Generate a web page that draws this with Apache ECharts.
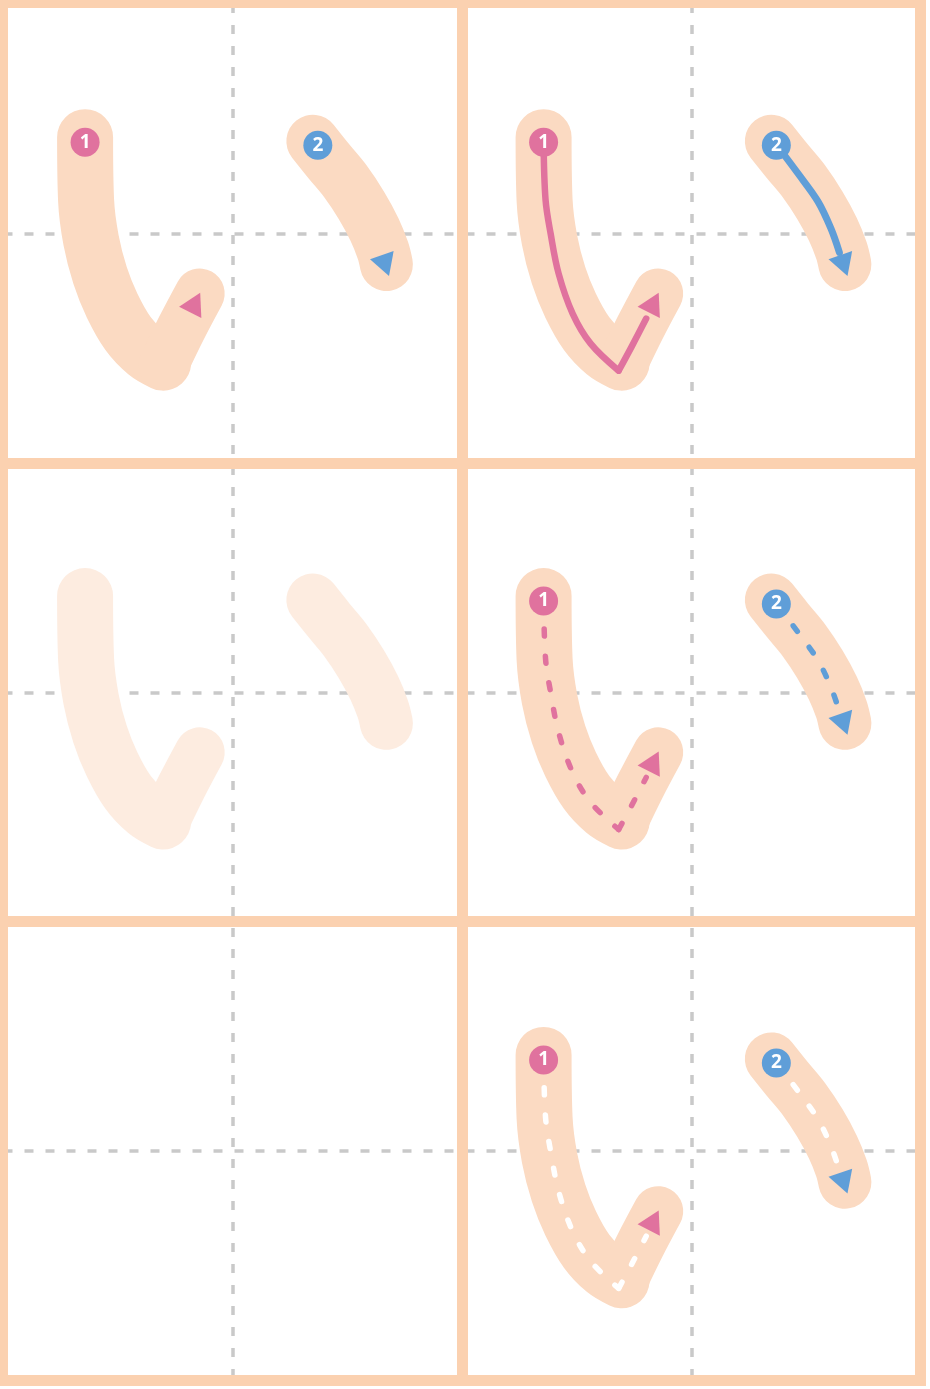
<!DOCTYPE html>
<html>
<head>
<meta charset="utf-8">
<script src="https://cdn.jsdelivr.net/npm/echarts@6/dist/echarts.min.js"></script>
<style>
html,body{margin:0;padding:0;background:#fff;}
#chart{width:930px;height:1389px;}
</style>
</head>
<body>
<div id="chart"></div>
<script>
// ---- frame (in cell units: 2 columns x 3 rows) ----
const FRAME_X = [0, 1, 2];
const FRAME_Y = [0, 1, 2, 3];
const GUIDE_X = [0.5, 1.5];
const GUIDE_Y = [0.5, 1.5, 2.5];

// ---- stroke shapes, in cell units (0..458) ----
const STROKE1_DOWN = [[81.5,133],[82.5,196],[87.5,236],[96.5,271],[108.5,301],[124.5,329],[142.5,348],[159.5,358]];
const STROKE1_UP   = [[160,360],[178,323],[196,289]];
const STROKE2      = [[309,137],[325,157],[341.5,177],[357.5,201],[370.5,225],[379,246],[382.5,260]];

const GUIDE1_DOWN = [[81.5,139],[83.5,196],[88.5,229],[96.5,269],[110.5,309],[128.5,339],[156.5,366]];
const GUIDE1_UP   = [[156.5,366],[170,341],[184,314]];
const GUIDE2      = [[314.5,141],[335.5,169],[355.5,197],[368.5,224],[377,248]];

const ARROW1 = [[191.5,298]];
const ARROW2 = [[381.5,261]];
const MARK1 = [[81.5,138]];
const MARK2 = [[314,141]];
const MARK_LABELS = ['1', '2'];

// cell contents: [row][col]
const CELL_KINDS = [
  ['model', 'solid'],
  ['faded', 'dashed'],
  ['empty', 'white']
];

const C_BORDER = '#FBD1B0';
const C_PEACH = '#FBDAC2';
const C_FADED = '#FDECE0';
const C_PINK = '#E0729E';
const C_BLUE = '#5F9ED8';
const C_GUIDE = '#C9C9C9';

const FRAME_LEFT = 3.5, FRAME_TOP = 4, FRAME_W = 917, FRAME_H = 1376.5;
const CELL_MAX = 458;

const grids = [{left: FRAME_LEFT, top: FRAME_TOP, width: FRAME_W, height: FRAME_H, show: false}];
const xAxes = [{gridIndex: 0, type: 'value', min: 0, max: 2, show: false}];
const yAxes = [{gridIndex: 0, type: 'value', min: 0, max: 3, inverse: true, show: false}];
const series = [];

// frame rules & guide lines
const borderData = [];
FRAME_X.forEach(v => borderData.push({coords: [[v, 0], [v, 3]], lineStyle: {width: v === 0 ? 8 : 11}}));
FRAME_Y.forEach(v => borderData.push({coords: [[0, v], [2, v]], lineStyle: {width: v === 0 ? 8 : 11}}));
const guideData = [];
GUIDE_X.forEach(v => guideData.push({coords: [[v, 0], [v, 3]]}));
GUIDE_Y.forEach(v => guideData.push({coords: [[0, v], [2, v]]}));

series.push({
  type: 'lines', coordinateSystem: 'cartesian2d', xAxisIndex: 0, yAxisIndex: 0,
  data: guideData, silent: true, clip: false, z: 1,
  lineStyle: {color: C_GUIDE, width: 3.5, type: [9, 12], opacity: 1, curveness: 0}
});
series.push({
  type: 'lines', coordinateSystem: 'cartesian2d', xAxisIndex: 0, yAxisIndex: 0,
  data: borderData, silent: true, clip: false, z: 2,
  lineStyle: {color: C_BORDER, width: 11, opacity: 1, curveness: 0, cap: 'square'}
});

function lineSeries(idx, data, color, width, z, dash) {
  return {
    type: 'line', xAxisIndex: idx, yAxisIndex: idx, data: data,
    smooth: 0.35, showSymbol: false, symbol: 'none', silent: true, clip: false, z: z,
    lineStyle: {color: color, width: width, cap: 'round', join: 'round', type: dash || 'solid', opacity: 1}
  };
}
function arrowSeries(idx, data, color, rot) {
  return {
    type: 'scatter', xAxisIndex: idx, yAxisIndex: idx, data: data, silent: true, clip: false, z: 6,
    symbol: 'triangle', symbolSize: [25, 22], symbolRotate: rot,
    itemStyle: {color: color, opacity: 1}
  };
}
function markSeries(idx, data, color, text) {
  return {
    type: 'scatter', xAxisIndex: idx, yAxisIndex: idx, data: data, silent: true, clip: false, z: 7,
    symbol: 'circle', symbolSize: 29, itemStyle: {color: color, opacity: 1},
    label: {show: true, position: 'inside', formatter: text, color: '#fff',
            fontWeight: 'bold', fontSize: 19, fontFamily: 'Open Sans'}
  };
}

let gi = 1;
for (let r = 0; r < CELL_KINDS.length; r++) {
  for (let c = 0; c < CELL_KINDS[r].length; c++) {
    const kind = CELL_KINDS[r][c];
    grids.push({
      left: FRAME_LEFT + c * FRAME_W / 2,
      top: FRAME_TOP + r * FRAME_H / 3,
      width: FRAME_W / 2, height: FRAME_H / 3, show: false
    });
    xAxes.push({gridIndex: gi, type: 'value', min: 0, max: CELL_MAX, show: false});
    yAxes.push({gridIndex: gi, type: 'value', min: 0, max: CELL_MAX, inverse: true, show: false});
    if (kind !== 'empty') {
      const peach = kind === 'faded' ? C_FADED : C_PEACH;
      series.push(lineSeries(gi, STROKE1_DOWN, peach, 56, 3));
      series.push(lineSeries(gi, STROKE1_UP, peach, 50, 3));
      series.push(lineSeries(gi, STROKE2, peach, 53, 3));
    }
    if (kind === 'solid') {
      series.push(lineSeries(gi, GUIDE1_DOWN, C_PINK, 6.5, 4));
      series.push(lineSeries(gi, GUIDE1_UP, C_PINK, 6.5, 4));
      series.push(lineSeries(gi, GUIDE2, C_BLUE, 7, 4));
    }
    if (kind === 'dashed' || kind === 'white') {
      const c1 = kind === 'white' ? '#FFFFFF' : C_PINK;
      const c2 = kind === 'white' ? '#FFFFFF' : C_BLUE;
      series.push(lineSeries(gi, GUIDE1_DOWN, c1, 5.5, 4, [7, 20]));
      series.push(lineSeries(gi, GUIDE1_UP, c1, 5.5, 4, [7, 20]));
      series.push(lineSeries(gi, GUIDE2, c2, 5.5, 4, [7, 20]));
    }
    if (kind !== 'empty' && kind !== 'faded') {
      series.push(arrowSeries(gi, ARROW1, C_PINK, -27));
      series.push(arrowSeries(gi, ARROW2, C_BLUE, 199));
      series.push(markSeries(gi, MARK1, C_PINK, MARK_LABELS[0]));
      series.push(markSeries(gi, MARK2, C_BLUE, MARK_LABELS[1]));
    }
    gi++;
  }
}

const chart = echarts.init(document.getElementById('chart'), null, {renderer: 'canvas'});
chart.setOption({
  animation: false,
  backgroundColor: '#ffffff',
  grid: grids, xAxis: xAxes, yAxis: yAxes,
  tooltip: {show: false},
  series: series
});
</script>
</body>
</html>
